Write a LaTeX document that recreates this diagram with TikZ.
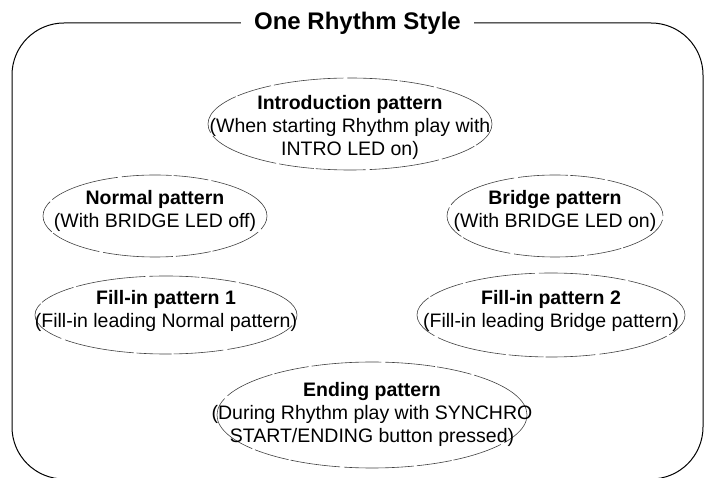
\documentclass[tikz,border=0pt]{standalone}
\usepackage{fontspec}
\setmainfont{Liberation Sans}
\begin{document}
\begin{tikzpicture}[x=1pt,y=-1pt,
  frame/.style={line width=1pt,black},
  oval/.style={draw=black!75,line width=0.6pt,
    dash pattern=on 70pt off 3pt on 35pt off 2pt on 50pt off 4pt},
  ptext/.style={inner sep=0pt,align=center,font=\fontsize{19.5}{23}\selectfont},
  ttl/.style={font=\fontsize{24}{28}\selectfont\bfseries,inner xsep=13pt,inner ysep=0pt}]
\useasboundingbox (0,0) rectangle (705,478);
\node[ttl] (title) at (357.5,23) {One Rhythm Style};
\draw[frame,rounded corners=52pt] (title.west) -| (12,479) -| (703,23) -- (title.east);
% ellipse centres
\coordinate (introE) at (350,124);
\coordinate (normalE) at (155,216);
\coordinate (bridgeE) at (555,216);
\coordinate (fillAE) at (166,315);
\coordinate (fillBE) at (551,315);
\coordinate (endingE) at (372,415);
\draw[oval] (introE) ellipse [x radius=142pt,y radius=46pt];
\draw[oval] (normalE) ellipse [x radius=112pt,y radius=41pt];
\draw[oval] (bridgeE) ellipse [x radius=108pt,y radius=41pt];
\draw[oval] (fillAE) ellipse [x radius=131pt,y radius=39pt];
\draw[oval] (fillBE) ellipse [x radius=134pt,y radius=42pt];
\draw[oval] (endingE) ellipse [x radius=155pt,y radius=53pt];
\node[ptext] (intro) at (350,127)
  {\textbf{Introduction pattern}\\(When starting Rhythm play with\\INTRO LED on)};
\node[ptext] (normal) at (155,211)
  {\textbf{Normal pattern}\\(With BRIDGE LED off)};
\node[ptext] (bridge) at (555,211)
  {\textbf{Bridge pattern}\\(With BRIDGE LED on)};
\node[ptext] (fill1) at (166,311)
  {\textbf{Fill-in pattern 1}\\(Fill-in leading Normal pattern)};
\node[ptext] (fill2) at (551,311)
  {\textbf{Fill-in pattern 2}\\(Fill-in leading Bridge pattern)};
\node[ptext] (ending) at (372,414)
  {\textbf{Ending pattern}\\(During Rhythm play with SYNCHRO\\START/ENDING button pressed)};
\end{tikzpicture}
\end{document}
